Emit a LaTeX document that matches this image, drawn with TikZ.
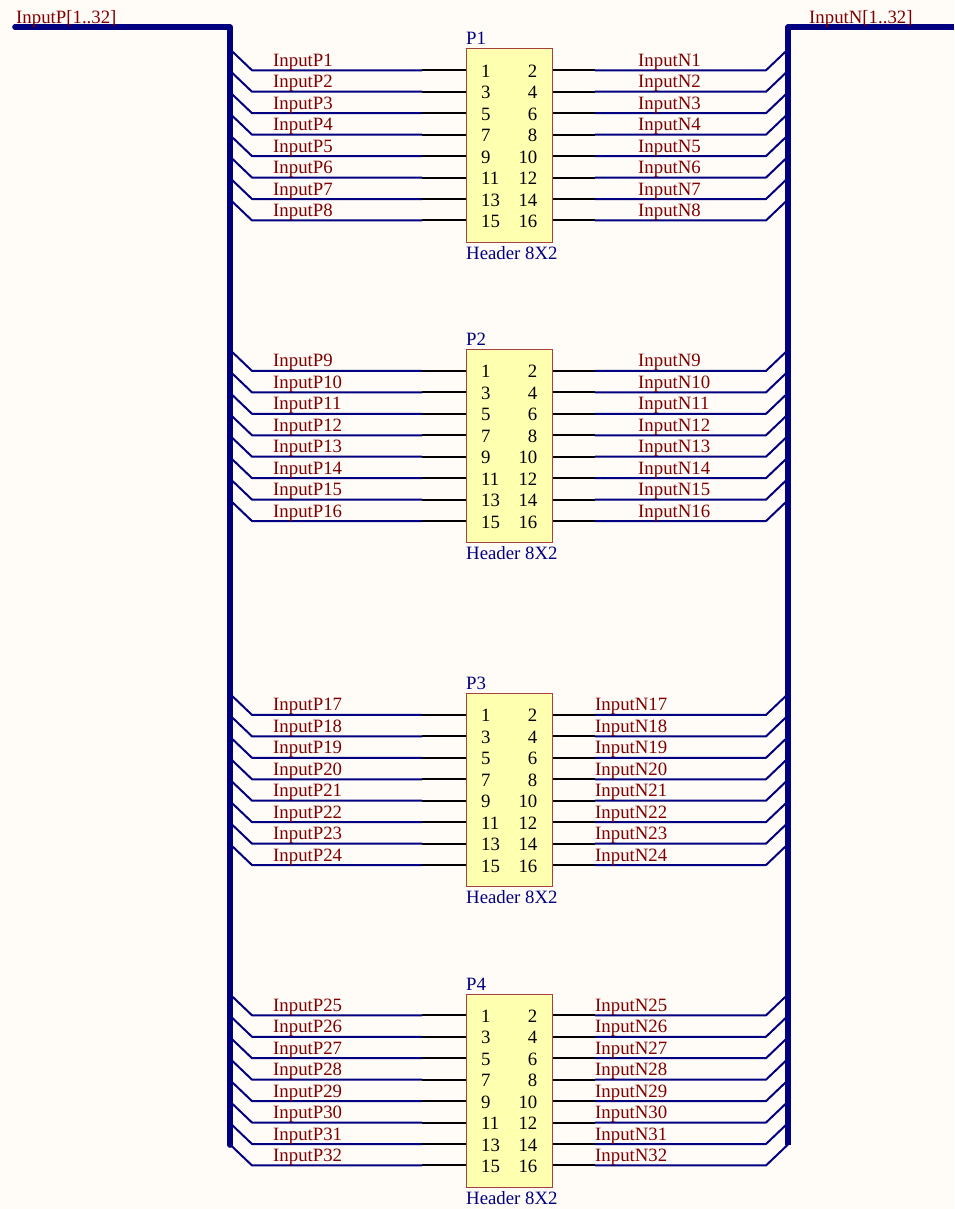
\documentclass[tikz,border=0pt]{standalone}
\usepackage{fontspec}
\setmainfont{Liberation Serif}
\usetikzlibrary{calc,positioning}

\definecolor{sheetbg}{HTML}{FFFCF8}
\definecolor{netred}{HTML}{800000}
\definecolor{wireblue}{HTML}{000080}
\definecolor{boxfill}{HTML}{FFFFB0}
\definecolor{boxline}{HTML}{A84040}

\tikzset{
  netlabel/.style={anchor=base west, inner sep=0pt, text=netred, font=\fontsize{18.8}{20}\selectfont},
  partlabel/.style={anchor=base west, inner sep=0pt, text=wireblue, font=\fontsize{18.8}{20}\selectfont},
  pinnum/.style={inner sep=0pt, text=black, font=\fontsize{18.8}{20}\selectfont},
  headerbox/.style={draw=boxline, fill=boxfill, line width=1pt, inner sep=0pt, minimum width=86pt, minimum height=193pt},
  netwire/.style={draw=wireblue, line width=2pt, line join=round},
  pinwire/.style={draw=black, line width=2pt},
  buswire/.style={draw=wireblue, line width=5.6pt, line join=round}
}

\begin{document}
\begin{tikzpicture}[x=1pt, y=-1pt]

    \useasboundingbox[fill=sheetbg] (0,0) rectangle (954,1209);

    \coordinate (pstart)  at (15,27);
    \coordinate (pcorner) at (230,27);
    \coordinate (pend)    at (230,1145);
    \coordinate (nstart)  at (954,27);
    \coordinate (ncorner) at (788,27);
    \coordinate (nend)    at (788,1145);

    \foreach \conn/\ytop/\base/\nx in {1/49/0/638, 2/349.6/8/638, 3/693.6/16/595, 4/994/24/595} {
        \node[headerbox] (P\conn) at (509,\ytop+96.5) {};
        \node[partlabel] (P\conn name) at (466,\ytop-4) {P\conn};
        \node[partlabel] (P\conn part) at (466,\ytop+210) {Header 8X2};

        \foreach \i in {1,...,8} {
            \pgfmathsetmacro{\ypin}{\ytop+21.3+(\i-1)*21.45}
            \pgfmathtruncatemacro{\net}{\base+\i}
            \pgfmathtruncatemacro{\odd}{2*\i-1}
            \pgfmathtruncatemacro{\even}{2*\i}

            \coordinate (ptap\net) at (230,\ypin-21);
            \coordinate (pbend\net) at (252,\ypin);
            \coordinate (pout\net) at (422,\ypin);
            \coordinate (ntap\net) at (788,\ypin-21);
            \coordinate (nbend\net) at (766,\ypin);
            \coordinate (nout\net) at (595,\ypin);

            \draw[netwire] (ptap\net) -- (pbend\net) -- (pout\net);
            \draw[netwire] (ntap\net) -- (nbend\net) -- (nout\net);
            \draw[pinwire] (pout\net) -- (pout\net -| P\conn.west);
            \draw[pinwire] (nout\net) -- (nout\net -| P\conn.east);

            \node[netlabel] (pnet\net) at (273,\ypin-4) {InputP\net};
            \node[netlabel] (nnet\net) at (\nx,\ypin-4) {InputN\net};
            \node[pinnum, anchor=base west] (P\conn pin\odd) at (481,\ypin+7) {\odd};
            \node[pinnum, anchor=base east] (P\conn pin\even) at (537.5,\ypin+7) {\even};
        }
    }

    \draw[buswire, line cap=round] (pstart) -- (pcorner) -- (pend);
    \draw[buswire] (nstart) -- (ncorner) -- (nend);

    \node[netlabel] (pbus) at (16,24) {InputP[1..32]};
    \node[netlabel] (nbus) at (809,24) {InputN[1..32]};

\end{tikzpicture}
\end{document}
